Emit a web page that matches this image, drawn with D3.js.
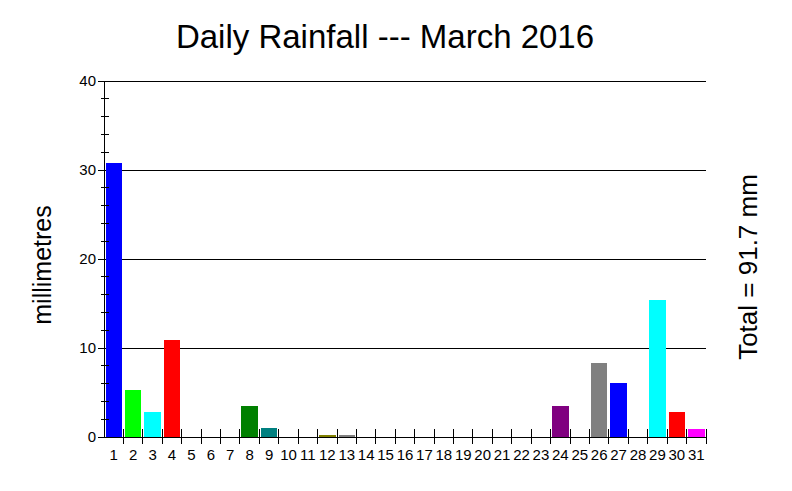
<!DOCTYPE html>
<html>
<head>
<meta charset="utf-8">
<script src="https://cdn.jsdelivr.net/npm/d3@7"></script>
<style>
  html, body { margin: 0; padding: 0; background: #fff; }
  svg { display: block; font-family: Arial, "Liberation Sans", sans-serif; }
</style>
</head>
<body>
<svg id="chart" width="792" height="491"></svg>
<script>
const days = d3.range(1, 32).map(String);
const rainfall = [30.8, 5.3, 2.8, 10.9, 0, 0, 0, 3.5, 1.0, 0, 0, 0.2, 0.2, 0, 0, 0,
                  0, 0, 0, 0, 0, 0, 0, 3.5, 0, 8.3, 6.1, 0, 15.4, 2.8, 0.9];
const barColors = ["#0000ff", "#00ff00", "#00ffff", "#ff0000", "#ffffff", "#ffffff", "#ffffff",
                   "#008000", "#008080", "#ffffff", "#ffffff", "#808000", "#808080", "#ffffff",
                   "#ffffff", "#ffffff", "#ffffff", "#ffffff", "#ffffff", "#ffffff", "#ffffff",
                   "#ffffff", "#ffffff", "#800080", "#ffffff", "#808080", "#0000ff", "#ffffff",
                   "#00ffff", "#ff0000", "#ff00ff"];
const yMajorTicks = [0, 10, 20, 30, 40];
const yMinorTicks = d3.range(0, 41, 2);
const titleText = "Daily Rainfall --- March 2016";
const yLabelText = "millimetres";
const totalText = "Total = 91.7 mm";

const svg = d3.select("#chart");
const pL = 104, pR = 706, pT = 81, pB = 437;

const x = d3.scaleBand().domain(days).range([pL, pR]).padding(0);
const y = d3.scaleLinear().domain([0, 40]).range([pB, pT]);

// gridlines
svg.append("g").selectAll("line").data(yMajorTicks.filter(d => d > 0)).join("line")
  .attr("x1", pL).attr("x2", pR)
  .attr("y1", d => y(d)).attr("y2", d => y(d))
  .attr("stroke", "#000").attr("stroke-width", 1).attr("shape-rendering", "crispEdges");

// bars
svg.append("g").selectAll("rect").data(rainfall).join("rect")
  .attr("x", (d, i) => x(days[i]) + 1.5)
  .attr("width", x.bandwidth() - 3)
  .attr("y", d => y(d))
  .attr("height", d => y(0) - y(d))
  .attr("fill", (d, i) => barColors[i])
  .attr("shape-rendering", "crispEdges");

// y axis (major ticks, labels)
const yAxis = d3.axisLeft(y).tickValues(yMajorTicks).tickSize(6).tickPadding(2).tickSizeOuter(0);
const gy = svg.append("g").attr("transform", `translate(${pL},0)`).call(yAxis);
gy.select(".domain").attr("stroke", "#000").attr("shape-rendering", "crispEdges");
gy.selectAll(".tick line").attr("shape-rendering", "crispEdges");
gy.selectAll(".tick text").attr("font-size", 15).attr("font-family", "Arial, 'Liberation Sans', sans-serif").attr("fill", "#000");

// minor y ticks crossing axis
svg.append("g").selectAll("line").data(yMinorTicks.filter(d => d % 10 !== 0)).join("line")
  .attr("x1", pL - 3).attr("x2", pL + 5)
  .attr("y1", d => y(d)).attr("y2", d => y(d))
  .attr("stroke", "#000").attr("shape-rendering", "crispEdges");

// x axis
svg.append("line").attr("x1", pL).attr("x2", pR).attr("y1", pB).attr("y2", pB)
  .attr("stroke", "#000").attr("shape-rendering", "crispEdges");
const boundaries = days.map(d => x(d)).concat([pR]).slice(1);
svg.append("g").selectAll("line").data(boundaries).join("line")
  .attr("x1", d => d).attr("x2", d => d)
  .attr("y1", pB - 8).attr("y2", pB + 7)
  .attr("stroke", "#000").attr("shape-rendering", "crispEdges");
const xAxis = d3.axisBottom(x).tickSize(0).tickPadding(12);
const gx = svg.append("g").attr("transform", `translate(0,${pB})`).call(xAxis);
gx.select(".domain").remove();
gx.selectAll(".tick text").attr("font-size", 15).attr("font-family", "Arial, 'Liberation Sans', sans-serif").attr("fill", "#000");

// title
svg.append("text").attr("x", 385).attr("y", 48).attr("text-anchor", "middle")
  .attr("font-size", 33).attr("fill", "#000").text(titleText);

// y label
svg.append("text").attr("transform", "translate(51,265) rotate(-90)")
  .attr("text-anchor", "middle").attr("font-size", 25).attr("fill", "#000").text(yLabelText);

// total label
svg.append("text").attr("transform", "translate(757,267) rotate(-90)")
  .attr("text-anchor", "middle").attr("font-size", 26).attr("fill", "#000").text(totalText);
</script>
</body>
</html>
